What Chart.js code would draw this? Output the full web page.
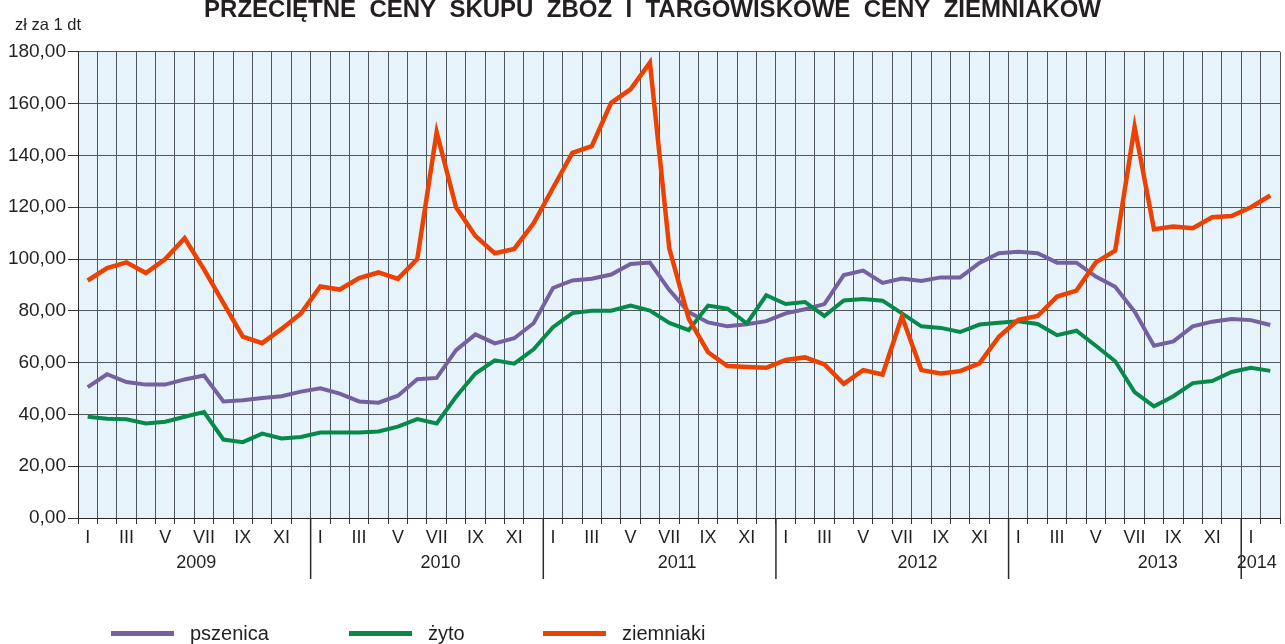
<!DOCTYPE html>
<html>
<head>
<meta charset="utf-8">
<script src="https://cdn.jsdelivr.net/npm/chart.js@4.4.1/dist/chart.umd.min.js"></script>
<style>
  html, body { margin: 0; padding: 0; background: #ffffff; overflow: hidden; }
  #wrap { position: relative; width: 1285px; height: 644px; }
  #legend { position: absolute; left: 0; top: 0; width: 1285px; height: 644px; pointer-events: none;
            font-family: "Liberation Sans", Arial, sans-serif; font-size: 20px; color: #231f20; }
  .lg-line { position: absolute; top: 631px; width: 63px; height: 5px; }
  .lg-text { position: absolute; top: 623px; line-height: 20px; white-space: nowrap; }
</style>
</head>
<body>
<div id="wrap">
  <canvas id="c"></canvas>
  <div id="legend"></div>
</div>
<script>
// ---- data ----
const monthNames = ['I','II','III','IV','V','VI','VII','VIII','IX','X','XI','XII'];
const years = [2009, 2010, 2011, 2012, 2013, 2014];
const monthsInYear = [12, 12, 12, 12, 12, 2];

const pszenica = [
  50.5, 55.5, 52.5, 51.5, 51.5, 53.5, 55.0, 45.0, 45.5, 46.3, 47.0, 48.8,
  50.1, 48.0, 45.0, 44.5, 47.2, 53.6, 54.1, 64.8, 70.9, 67.4, 69.4, 75.2,
  88.8, 91.7, 92.4, 94.0, 98.1, 98.6, 88.0, 79.5, 75.5, 74.0, 74.8, 76.0,
  79.0, 80.6, 82.6, 93.8, 95.5, 90.8, 92.5, 91.5, 92.9, 92.9, 98.5, 102.2,
  102.8, 102.2, 98.6, 98.6, 93.2, 89.3, 79.7, 66.5, 68.2, 74.0, 75.8, 76.8,
  76.4, 74.5
];
const zyto = [
  39.1, 38.3, 38.1, 36.5, 37.2, 39.1, 40.9, 30.3, 29.3, 32.6, 30.7, 31.3,
  33.0, 33.0, 33.0, 33.4, 35.3, 38.2, 36.5, 46.8, 55.8, 60.9, 59.6, 65.1,
  73.7, 79.1, 80.0, 80.0, 82.0, 80.1, 75.3, 72.5, 82.0, 80.8, 75.1, 86.0,
  82.6, 83.4, 78.0, 84.0, 84.6, 83.9, 79.0, 74.0, 73.4, 71.8, 74.7, 75.4,
  76.0, 74.9, 70.6, 72.3, 66.5, 60.5, 48.6, 43.1, 47.0, 52.1, 52.9, 56.4,
  58.0, 56.8
];
const ziemniaki = [
  91.7, 96.5, 98.7, 94.6, 100.0, 108.0, 96.0, 83.0, 70.0, 67.5, 73.0, 79.0,
  89.4, 88.2, 92.6, 94.8, 92.3, 100.0, 149.0, 120.0, 108.9, 102.2, 103.9, 113.8,
  127.4, 141.0, 143.6, 160.3, 165.5, 175.8, 104.0, 77.0, 64.0, 58.7, 58.3, 58.0,
  61.0, 62.0, 59.3, 51.8, 57.1, 55.4, 77.8, 57.1, 55.8, 56.7, 59.7, 70.0,
  76.5, 78.0, 85.5, 87.8, 98.7, 103.2, 151.0, 111.5, 112.5, 111.9, 116.1, 116.6,
  120.0, 124.5
];
const seriesNames = ['pszenica', 'żyto', 'ziemniaki'];
const yTicks = [0, 20, 40, 60, 80, 100, 120, 140, 160, 180];

const titleText = 'PRZECIĘTNE  CENY  SKUPU  ZBÓŻ  I  TARGOWISKOWE  CENY  ZIEMNIAKÓW';
const unitText = 'zł za 1 dt';

// ---- categories built from the named arrays ----
const categories = [];
const yearStart = [];
years.forEach((y, yi) => {
  yearStart.push(categories.length);
  for (let m = 0; m < monthsInYear[yi]; m++) categories.push(monthNames[m] + ' ' + y);
});

// ---- layout / style ----
const FONT = '"Liberation Sans", Arial, sans-serif';
const TXT = '#231f20';
const GRID = '#4f5559';
const colors = ['#7461a0', '#07894a', '#ec4100'];
const widths = [4, 4, 4.5];
const yearLabelAt = [5.6, 18.2, 30.4, 42.8, 55.2, 60.3];

const bgPlugin = {
  id: 'bg',
  beforeDraw(chart) {
    const {ctx, chartArea: a} = chart;
    ctx.save();
    ctx.fillStyle = '#e7f3fa';
    ctx.fillRect(a.left, a.top, a.right - a.left, a.bottom - a.top);
    ctx.restore();
  }
};
const extraPlugin = {
  id: 'extra',
  afterDraw(chart) {
    const {ctx, chartArea: a} = chart;
    const x2 = chart.scales.x2;
    ctx.save();
    ctx.strokeStyle = '#2a2a2a';
    ctx.lineWidth = 1.5;
    yearStart.slice(1).forEach(s => {
      const px = x2.getPixelForValue(s - 0.5);
      ctx.beginPath();
      ctx.moveTo(px, a.bottom);
      ctx.lineTo(px, 579);
      ctx.stroke();
    });
    ctx.fillStyle = TXT;
    ctx.font = '16.5px ' + FONT;
    ctx.textBaseline = 'alphabetic';
    ctx.textAlign = 'left';
    ctx.fillText(unitText, 15, 30);
    ctx.restore();
  }
};

const chart = new Chart(document.getElementById('c'), {
  type: 'line',
  data: {
    labels: categories,
    datasets: [pszenica, zyto, ziemniaki].map((d, i) => ({
      label: seriesNames[i],
      data: d,
      borderColor: colors[i],
      backgroundColor: colors[i],
      borderWidth: widths[i],
      pointRadius: 0,
      tension: 0,
      fill: false,
      order: 2 - i
    }))
  },
  options: {
    responsive: true,
    maintainAspectRatio: false,
    animation: false,
    devicePixelRatio: 1,
    layout: { padding: { left: 5, right: -15, top: 0, bottom: 0 } },
    plugins: {
      legend: { display: false },
      tooltip: { enabled: false },
      title: {
        display: true,
        text: titleText,
        color: TXT,
        font: { family: FONT, size: 24, weight: 'bold', lineHeight: 1.2 },
        padding: { top: -4, bottom: 27 }
      }
    },
    scales: {
      x: {
        type: 'category',
        position: 'bottom',
        weight: 1,
        offset: true,
        grid: { offset: true, color: GRID, lineWidth: 1, tickLength: 6, tickColor: '#333' },
        border: { display: true, color: '#2a2a2a', width: 1 },
        ticks: {
          autoSkip: false, maxRotation: 0, minRotation: 0, padding: 3,
          color: TXT, font: { family: FONT, size: 18 },
          callback: (v, i) => (i % 12) % 2 === 0 ? categories[i].split(' ')[0] : ''
        },
        afterFit: s => { s.height = 30; }
      },
      x2: {
        type: 'linear',
        position: 'bottom',
        weight: 2,
        min: -0.5,
        max: categories.length - 0.5,
        grid: { display: false, drawTicks: false },
        border: { display: false },
        afterBuildTicks: s => { s.ticks = yearLabelAt.map(v => ({ value: v })); },
        ticks: {
          padding: 4, maxRotation: 0, autoSkip: false,
          color: TXT, font: { family: FONT, size: 18 },
          callback: (v, i) => String(years[i])
        },
        afterFit: s => { s.height = 96; }
      },
      y: {
        min: 0, max: 180,
        afterBuildTicks: s => { s.ticks = yTicks.map(v => ({ value: v })); },
        grid: { color: GRID, lineWidth: 1, tickLength: 10, tickColor: '#333' },
        border: { display: true, color: '#2a2a2a', width: 1 },
        ticks: {
          padding: 2, color: TXT, font: { family: FONT, size: 19 },
          callback: v => v.toFixed(2).replace('.', ',')
        },
        afterFit: s => { s.width = 73; }
      },
      yR: {
        position: 'right',
        display: true,
        min: 0, max: 180,
        grid: { display: false, drawTicks: false },
        border: { display: false },
        ticks: { display: false },
        afterFit: s => { s.width = 20; }
      }
    }
  },
  plugins: [bgPlugin, extraPlugin]
});

// ---- legend (HTML text) ----
const lg = document.getElementById('legend');
const lineX = [111, 349, 543];
const textX = [190, 428, 622];
seriesNames.forEach((n, i) => {
  const l = document.createElement('div');
  l.className = 'lg-line';
  l.style.left = lineX[i] + 'px';
  l.style.background = colors[i];
  lg.appendChild(l);
  const t = document.createElement('div');
  t.className = 'lg-text';
  t.style.left = textX[i] + 'px';
  t.textContent = n;
  lg.appendChild(t);
});
</script>
</body>
</html>
